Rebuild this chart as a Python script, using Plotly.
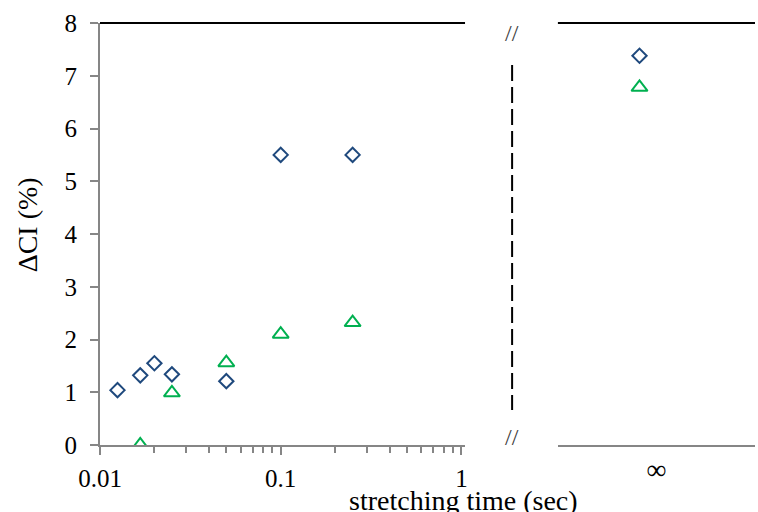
import plotly.graph_objects as go

# ---- data ----
diamond_times = [0.0125, 0.0167, 0.02, 0.025, 0.05, 0.1, 0.25]
diamond_vals = [1.04, 1.32, 1.55, 1.34, 1.21, 5.50, 5.50]
triangle_times = [0.0167, 0.025, 0.05, 0.1, 0.25]
triangle_vals = [0.0, 0.99, 1.56, 2.10, 2.32]
inf_label = ["∞"]
inf_diamond = [7.38]
inf_triangle = [6.78]
y_ticks = [0, 1, 2, 3, 4, 5, 6, 7, 8]
x_tickvals = [0.01, 0.1, 1]
x_ticktext = ["0.01", "0.1", "1"]

BLUE = "#1F497D"
GREEN = "#00B050"
GRAY = "#868686"
FONT = "Times New Roman, Liberation Serif, serif"

D_SIZE, T_SIZE = 11, 14

fig = go.Figure()
fig.add_trace(go.Scatter(x=diamond_times, y=diamond_vals, mode="markers",
                         marker=dict(symbol="diamond-open", size=D_SIZE, color=BLUE, line=dict(width=2, color=BLUE)),
                         xaxis="x", yaxis="y", showlegend=False))
fig.add_trace(go.Scatter(x=triangle_times, y=triangle_vals, mode="markers",
                         marker=dict(symbol="triangle-up-open", size=T_SIZE, color=GREEN, line=dict(width=2, color=GREEN)),
                         xaxis="x", yaxis="y", showlegend=False))
fig.add_trace(go.Scatter(x=inf_label, y=inf_diamond, mode="markers",
                         marker=dict(symbol="diamond-open", size=D_SIZE, color=BLUE, line=dict(width=2, color=BLUE)),
                         xaxis="x2", yaxis="y2", showlegend=False))
fig.add_trace(go.Scatter(x=inf_label, y=inf_triangle, mode="markers",
                         marker=dict(symbol="triangle-up-open", size=T_SIZE, color=GREEN, line=dict(width=2, color=GREEN)),
                         xaxis="x2", yaxis="y2", showlegend=False))

L, R, T, B = 100, 0, 23, 67
W, H = 758, 512
pw = W - L - R
ph = H - T - B

def px_x(p):
    return (p - L) / pw

def px_y(p):
    return (H - B - p) / ph

left_dom = [0, px_x(466.7)]
right_dom = [px_x(560), 1]

fig.update_layout(
    width=W, height=H,
    margin=dict(l=L, r=R, t=T, b=B, pad=0),
    plot_bgcolor="white", paper_bgcolor="white",
    font=dict(family=FONT, size=25, color="black"),
    xaxis=dict(type="log", domain=left_dom, range=[-2, 0.02],
               tickvals=x_tickvals, ticktext=x_ticktext,
               showgrid=False, zeroline=False,
               showline=True, linecolor=GRAY, linewidth=2,
               ticks="outside", ticklen=8, tickwidth=2, tickcolor=GRAY,
               ticklabelstandoff=2,
               minor=dict(ticks="outside", ticklen=6, tickwidth=2, tickcolor=GRAY,
                          dtick="D1", showgrid=False),
               anchor="y"),
    yaxis=dict(range=[0, 8], tickvals=y_ticks, showgrid=False, zeroline=False,
               showline=True, linecolor=GRAY, linewidth=2,
               ticks="outside", ticklen=8, tickwidth=2, tickcolor=GRAY,
               ticklabelstandoff=8, anchor="x"),
    xaxis2=dict(type="category", domain=right_dom, range=[-0.414, 0.586],
                showgrid=False, zeroline=False,
                showline=True, linecolor=GRAY, linewidth=2,
                ticks="", ticklabelshift=17, ticklabelstandoff=-2,
                tickfont=dict(size=28), anchor="y2"),
    yaxis2=dict(range=[0, 8], showgrid=False, zeroline=False, showline=False,
                showticklabels=False, ticks="", anchor="x2"),
)

# top black borders
fig.add_shape(type="line", xref="x domain", yref="y domain", x0=0, x1=1, y0=1, y1=1,
              line=dict(color="black", width=2))
fig.add_shape(type="line", xref="x2 domain", yref="y2 domain", x0=0, x1=1, y0=1, y1=1,
              line=dict(color="black", width=2))
# dashed break line
fig.add_shape(type="line", xref="paper", yref="paper",
              x0=px_x(514), x1=px_x(514), y0=px_y(65), y1=px_y(410),
              line=dict(color="black", width=2, dash="16px,6px"))

# break marks
for yy in (px_y(33), px_y(437)):
    fig.add_annotation(text="//", xref="paper", yref="paper", x=px_x(514), y=yy,
                       showarrow=False, font=dict(family=FONT, size=24, color="#404040"),
                       xanchor="center", yanchor="middle")

# axis titles
fig.add_annotation(text="ΔCI (%)", xref="paper", yref="paper", x=px_x(28), y=px_y(225),
                   textangle=-90, showarrow=False, font=dict(family=FONT, size=28),
                   xanchor="center", yanchor="middle")
fig.add_annotation(text="stretching time (sec)", xref="paper", yref="paper",
                   x=px_x(465), y=px_y(500), showarrow=False,
                   font=dict(family=FONT, size=28), xanchor="center", yanchor="middle")

fig.write_html("out.html", post_script="document.body.style.margin='0';",
               config={"displayModeBar": False})
